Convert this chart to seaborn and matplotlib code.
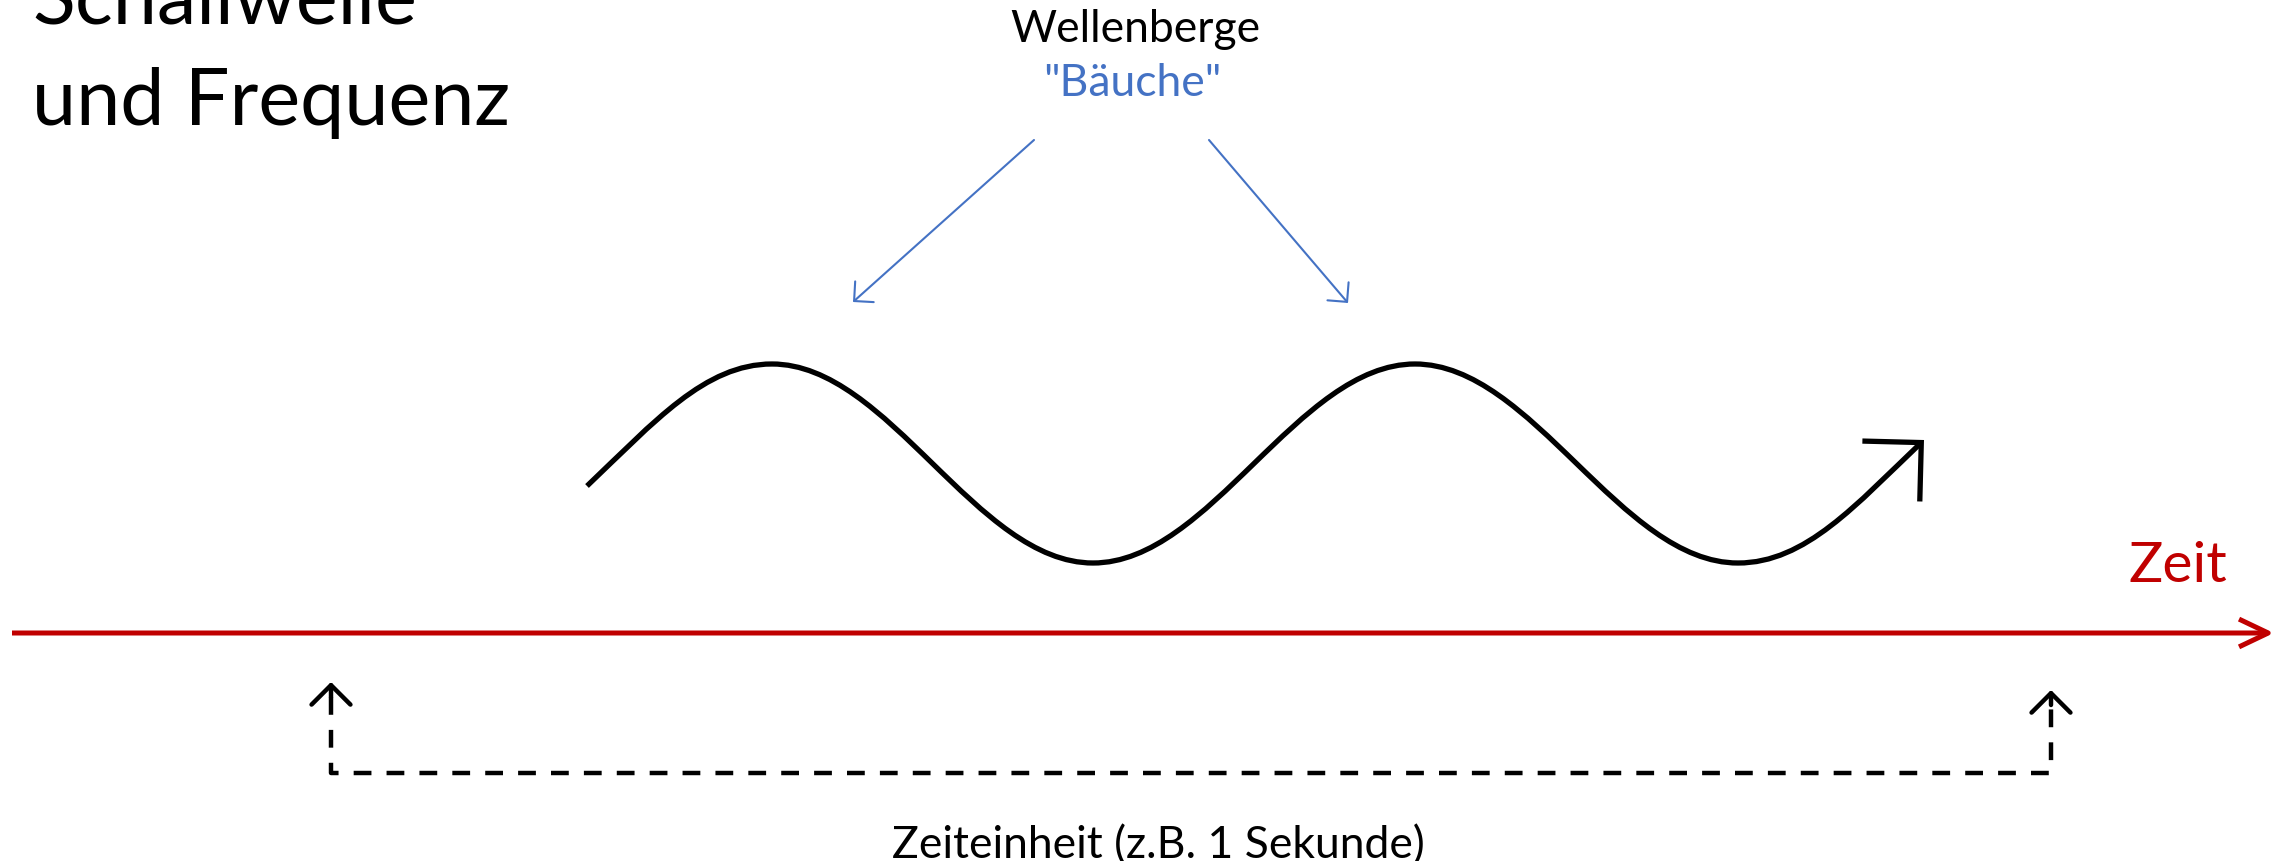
import numpy as np
import seaborn as sns
import matplotlib.pyplot as plt
from matplotlib.path import Path
from matplotlib.patches import FancyArrowPatch

# canvas is laid out in pixel units (x to the right, y downwards)
W, H = 2290, 861

# title lines (left x, baseline y)
title_lines = ["Schallwelle", "und Frequenz"]
title_baselines = [23, 125]

# labels above the wave
peak_label = "Wellenberge"
peak_label_alt = '"Bäuche"'

# the wave: anchor points (start, peaks/troughs, end) and tangent slopes there
wave_x = [587, 772, 1093, 1415, 1738, 1924]
wave_y = [486, 364, 563, 364, 563, 440]
wave_slope = [-0.95, 0.0, 0.0, 0.0, 0.0, -0.95]

# blue pointer arrows from the label to the two crests (start -> tip)
pointer_start = [(1034, 140), (1209, 140)]
pointer_tip = [(853, 302), (1348, 303)]

# time axis
axis_x = [12, 2274]
axis_y = 633
axis_label = "Zeit"

# dashed bracket marking one time unit
bracket_x = [331, 331, 2051, 2051]
bracket_y = [697, 773, 773, 705]
bracket_tips = [(331, 682), (2051, 690)]
bracket_label = "Zeiteinheit (z.B. 1 Sekunde)"

BLUE = "#4472C4"
RED = "#C00000"

sns.set_theme(style="white")
plt.rcParams['font.family'] = ['Lato', 'DejaVu Sans']

fig = plt.figure(figsize=(W / 100, H / 100), dpi=100)
ax = fig.add_axes([0, 0, 1, 1])
ax.set_xlim(0, W)
ax.set_ylim(H, 0)
ax.axis('off')

# title
for line, base in zip(title_lines, title_baselines):
    ax.text(32, base, line, fontsize=57, color='black', ha='left', va='baseline')

# labels
ax.text(1135, 42, peak_label, fontsize=32, color='black', ha='center', va='baseline')
ax.text(1132, 96, peak_label_alt, fontsize=32, color=BLUE, ha='center', va='baseline')

for (sx, sy), (tx, ty) in zip(pointer_start, pointer_tip):
    ax.add_patch(FancyArrowPatch((sx, sy), (tx, ty),
                                 arrowstyle='->,head_length=10,head_width=10',
                                 mutation_scale=1, shrinkA=0, shrinkB=0,
                                 lw=1.5, color=BLUE))

# wave as a chain of cubic bezier segments through the anchors
verts = [(wave_x[0], wave_y[0])]
codes = [Path.MOVETO]
for i in range(len(wave_x) - 1):
    dx = wave_x[i + 1] - wave_x[i]
    h = 0.363 * dx
    verts.append((wave_x[i] + h, wave_y[i] + h * wave_slope[i]))
    verts.append((wave_x[i + 1] - h, wave_y[i + 1] - h * wave_slope[i + 1]))
    verts.append((wave_x[i + 1], wave_y[i + 1]))
    codes += [Path.CURVE4] * 3
wave = FancyArrowPatch(path=Path(verts, codes),
                       arrowstyle='->,head_length=30,head_width=30',
                       mutation_scale=1, lw=3.8, color='black',
                       joinstyle='miter', capstyle='butt')
ax.add_patch(wave)

# time axis
ax.add_patch(FancyArrowPatch((axis_x[0], axis_y), (axis_x[1], axis_y),
                             arrowstyle='->,head_length=21,head_width=10',
                             mutation_scale=1, shrinkA=0, shrinkB=0,
                             lw=3.6, color=RED, capstyle='butt'))
ax.text(2128, 582, axis_label, fontsize=41, color=RED, ha='left', va='baseline')

# dashed bracket
sns.lineplot(x=bracket_x, y=bracket_y, sort=False, estimator=None, ax=ax,
             color='black', lw=3.2, linestyle=(0, (4.0, 3.4)))
for (tx, ty), by in zip(bracket_tips, [bracket_y[0], bracket_y[-1]]):
    ax.add_patch(FancyArrowPatch((tx, by), (tx, ty),
                                 arrowstyle='->,head_length=14,head_width=14',
                                 mutation_scale=1, shrinkA=0, shrinkB=0,
                                 lw=3.2, color='black'))
ax.text(1158, 858, bracket_label, fontsize=32, color='black', ha='center', va='baseline')

ax.set_xlim(0, W)
ax.set_ylim(H, 0)
fig.savefig('out.png', dpi=100)
